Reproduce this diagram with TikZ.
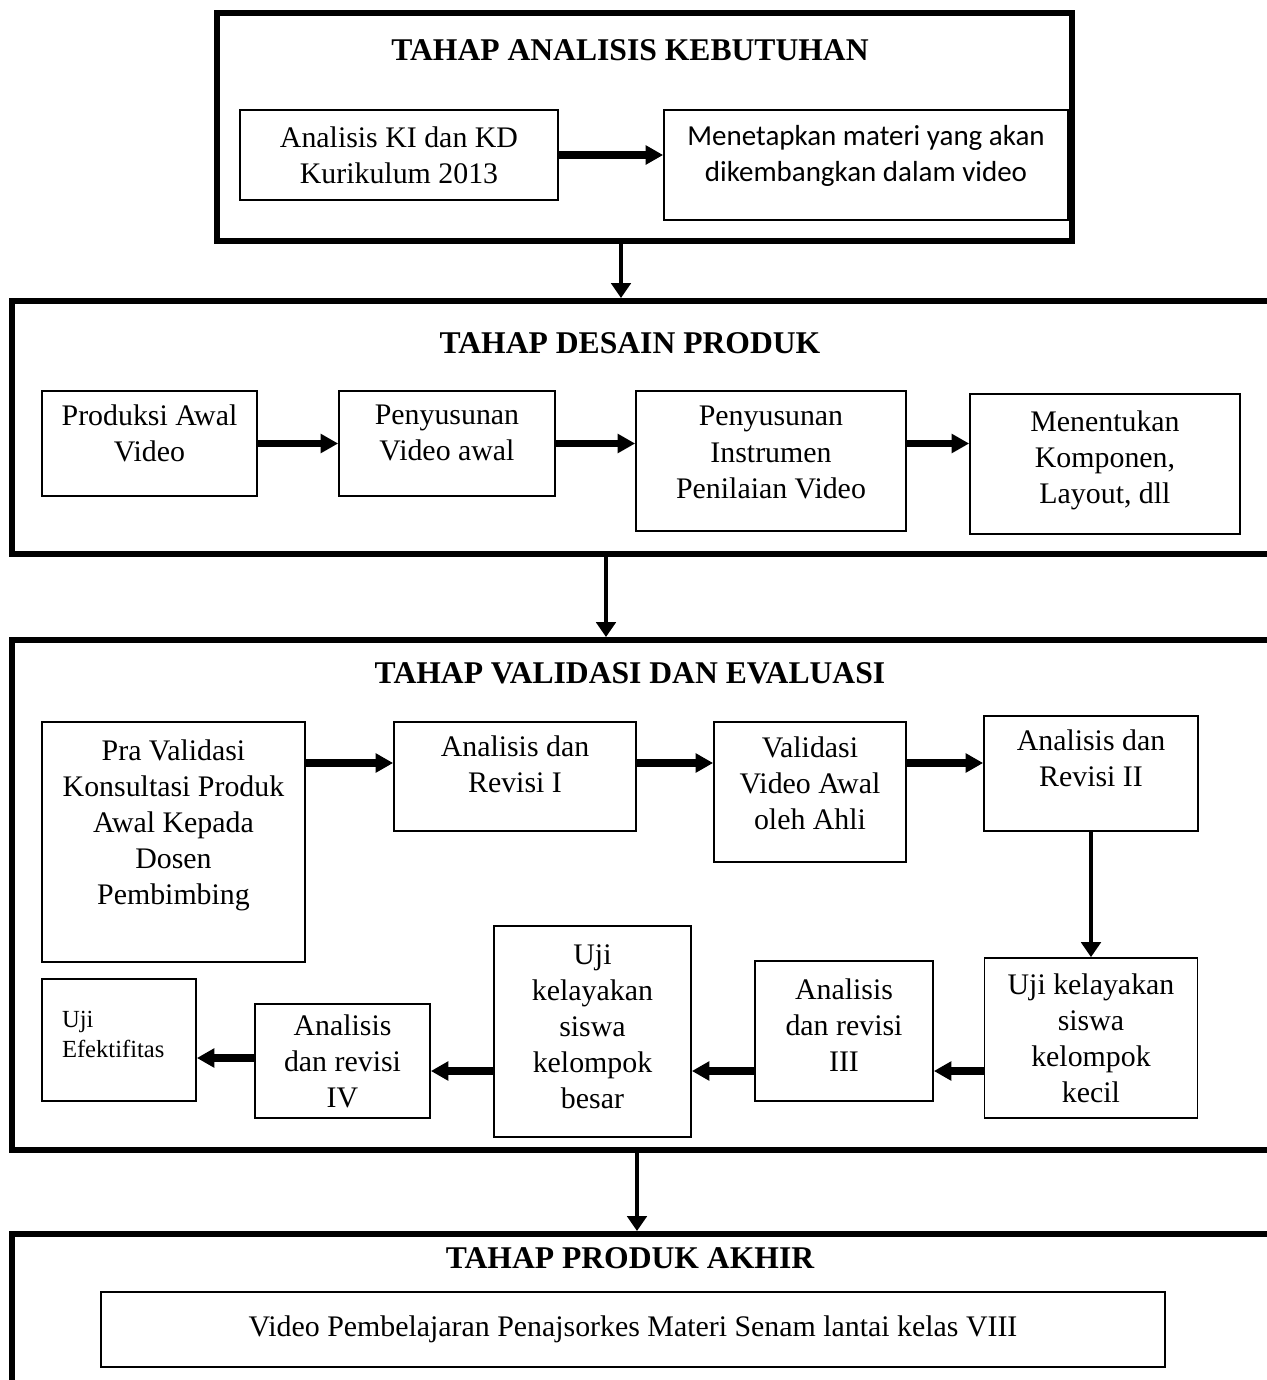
\documentclass[tikz,border=0pt]{standalone}
\usepackage{fontspec}
\setmainfont{Liberation Serif}
\newfontfamily\carlito{Carlito}
\usetikzlibrary{arrows.meta}
\tikzset{
	frame/.style={draw,line width=3.4pt,inner sep=0pt},
	box/.style={draw,line width=1pt,align=center,inner sep=0pt,font=\fontsize{17}{20.5}\selectfont},
	title/.style={font=\bfseries\fontsize{18}{21}\selectfont},
	harrow/.style={line width=4pt,-{Triangle[length=10pt,width=10.5pt]}},
	varrow/.style={line width=2.4pt,-{Triangle[length=8.5pt,width=11pt]}}
}
\begin{document}
\begin{tikzpicture}[x=0.02cm,y=-0.02cm]
\useasboundingbox (0,0) rectangle (1267,1380);
\clip (0,0) rectangle (1267,1380);
% frames
\node[frame,name=fr1,minimum width=17.1cm,minimum height=4.58cm] at (644.5,127){};
\node[frame,name=fr2,minimum width=25.76cm,minimum height=5.06cm] at (656,427.5){};
\node[frame,name=fr3,minimum width=25.76cm,minimum height=10.2cm] at (656,895){};
\node[frame,name=fr4,minimum width=25.76cm,minimum height=3.8cm] at (656,1329){};
\node[title,name=t1] at (630,50){TAHAP ANALISIS KEBUTUHAN};
\node[title,name=t2] at (630,343){TAHAP DESAIN PRODUK};
\node[title,name=t3] at (630,673){TAHAP VALIDASI DAN EVALUASI};
\node[title,name=t4] at (630,1258){TAHAP PRODUK AKHIR};
% analisis kebutuhan
\node[box,name=a1,minimum width=6.36cm,minimum height=1.8cm] at (399,155){Analisis KI dan KD\\Kurikulum 2013};
\node[box,name=a2,minimum width=8.08cm,minimum height=2.2cm,text depth=13pt,font=\carlito\fontsize{16.5}{20.5}\selectfont] at (866,165){Menetapkan materi yang akan\\dikembangkan dalam video};
\draw[harrow] (a1.east) -- (a1.east -| a2.west);
% desain produk
\node[box,name=p1,minimum width=4.3cm,minimum height=2.1cm,text depth=12pt] at (149.5,443.5){Produksi Awal\\Video};
\node[box,name=p2,minimum width=4.32cm,minimum height=2.1cm,text depth=12pt] at (447,443.5){Penyusunan\\Video awal};
\node[box,name=p3,minimum width=5.4cm,minimum height=2.8cm,text depth=10pt] at (771,461){Penyusunan\\Instrumen\\Penilaian Video};
\node[box,name=p4,minimum width=5.4cm,minimum height=2.8cm,text depth=8pt] at (1105,464){Menentukan\\Komponen,\\Layout, dll};
\foreach \x/\y in {p1/p2,p2/p3}{
	\draw[harrow] (\x.east) -- (\x.east -| \y.west);
};
\draw[harrow] (p3.east |- p2.east) -- (p2.east -| p4.west);
% validasi dan evaluasi
\node[box,name=v1,minimum width=5.26cm,minimum height=4.8cm,text depth=23pt] at (173.5,842){Pra Validasi\\Konsultasi Produk\\Awal Kepada\\Dosen\\Pembimbing};
\node[box,name=v2,minimum width=4.84cm,minimum height=2.18cm,text depth=14pt] at (515,776.5){Analisis dan\\Revisi I};
\node[box,name=v3,minimum width=3.84cm,minimum height=2.8cm,text depth=10pt] at (810,792){Validasi\\Video Awal\\oleh Ahli};
\node[box,name=v4,minimum width=4.28cm,minimum height=2.3cm,text depth=17pt] at (1091,773.5){Analisis dan\\Revisi II};
\node[box,name=v5,minimum width=4.26cm,minimum height=3.2cm] at (1091,1038){Uji kelayakan\\siswa\\kelompok\\kecil};
\node[box,name=v6,minimum width=3.56cm,minimum height=2.8cm,text depth=7pt] at (844,1031){Analisis\\dan revisi\\III};
\node[box,name=v7,minimum width=3.94cm,minimum height=4.22cm,text depth=6pt] at (592.5,1031.5){Uji\\kelayakan\\siswa\\kelompok\\besar};
\node[box,name=v8,minimum width=3.5cm,minimum height=2.28cm] at (342.5,1061){Analisis\\dan revisi\\IV};
\node[box,name=v9,align=left,text width=2.28cm,inner xsep=0.4cm,minimum height=2.44cm,text depth=23pt,font=\fontsize{14}{17}\selectfont] at (119,1040){Uji\\Efektifitas};
\coordinate (row1) at (0,763);
\coordinate (row2) at (0,1071);
\foreach \x/\y in {v1/v2,v2/v3,v3/v4}{
	\draw[harrow] (\x.east |- row1) -- (\y.west |- row1);
};
\draw[varrow] (v4.south) -- (v5.north);
\foreach \x/\y in {v5/v6,v6/v7,v7/v8}{
	\draw[harrow] (\x.west |- row2) -- (\y.east |- row2);
};
\draw[harrow] (v8.west |- 0,1058) -- (v9.east |- 0,1058);
% produk akhir
\node[box,name=f1,minimum width=21.28cm,minimum height=1.5cm] at (633,1329.5){Video Pembelajaran Penajsorkes Materi Senam lantai kelas VIII};
% between stages
\coordinate (c1) at (621,0);
\coordinate (c2) at (606,0);
\coordinate (c3) at (637,0);
\draw[varrow] (fr1.south -| c1) -- (fr2.north -| c1);
\draw[varrow] (fr2.south -| c2) -- (fr3.north -| c2);
\draw[varrow] (fr3.south -| c3) -- (fr4.north -| c3);
\end{tikzpicture}
\end{document}
